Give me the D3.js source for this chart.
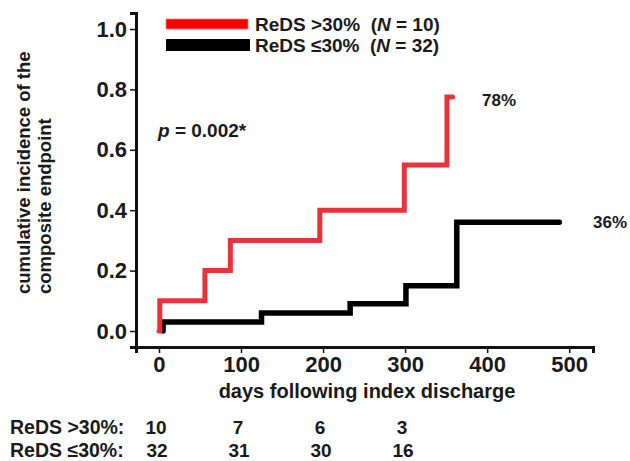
<!DOCTYPE html>
<html>
<head>
<meta charset="utf-8">
<script src="https://cdn.jsdelivr.net/npm/d3@7"></script>
<style>
  body { margin: 0; background: #fff; }
  text { font-family: "Liberation Sans", Arial, sans-serif; font-weight: bold; fill: #1a1a1a; white-space: pre; }
</style>
</head>
<body>
<svg id="chart" width="630" height="461"></svg>
<script>
// cumulative incidence, step curves (days, value)
const redDays = [0, 1, 56, 87, 196, 299, 351, 358];
const redVals = [0, 0.1, 0.2, 0.3, 0.4, 0.55, 0.775, 0.775];
const blackDays = [5, 5, 125, 233, 301, 363, 488];
const blackVals = [0, 0.03, 0.06, 0.09, 0.15, 0.36, 0.36];

const xTicks = [0, 100, 200, 300, 400, 500];
const yTicks = [0, 0.2, 0.4, 0.6, 0.8, 1.0];

const riskDays = [0, 100, 200, 300];
const riskRed = [10, 7, 6, 3];
const riskBlack = [32, 31, 30, 16];

const svg = d3.select("#chart");

const x = d3.scaleLinear().domain([-28, 529]).range([136, 593]);
const y = d3.scaleLinear().domain([-0.053, 1.053]).range([347, 13]);

// axes
const xAxis = svg.append("g").attr("transform", "translate(0,347)")
    .call(d3.axisBottom(x).tickValues(xTicks).tickSize(6).tickPadding(3).tickFormat(d3.format("d")));
const yAxis = svg.append("g").attr("transform", "translate(136,0)")
    .call(d3.axisLeft(y).tickValues(yTicks).tickSize(6).tickPadding(3).tickFormat(d3.format(".1f")));

[xAxis, yAxis].forEach(a => {
    a.select(".domain").attr("stroke", "#111").attr("stroke-width", 3);
    a.selectAll(".tick line").attr("stroke", "#111").attr("stroke-width", 1.5);
    a.selectAll(".tick text").attr("font-size", "22px").attr("font-family", null).attr("fill", "#1a1a1a");
});

// curves
const line = d3.line().x(d => x(d[0])).y(d => y(d[1])).curve(d3.curveStepAfter);

svg.append("path")
    .datum(blackDays.map((d, i) => [d, blackVals[i]]))
    .attr("d", line)
    .attr("fill", "none").attr("stroke", "#000").attr("stroke-width", 5.5)
    .attr("stroke-linecap", "round").attr("stroke-linejoin", "miter");

svg.append("path")
    .datum(redDays.map((d, i) => [d, redVals[i]]))
    .attr("d", line)
    .attr("fill", "none").attr("stroke", "#e8333c").attr("stroke-width", 5)
    .attr("stroke-linecap", "round").attr("stroke-linejoin", "miter");

// legend
svg.append("rect").attr("x", 166).attr("y", 19).attr("width", 82).attr("height", 10)
    .attr("fill", "#fe0000").attr("stroke", "#f77").attr("stroke-width", 0.8);
svg.append("rect").attr("x", 166).attr("y", 39).attr("width", 84).attr("height", 12)
    .attr("fill", "#000");

const leg1 = svg.append("text").attr("x", 255).attr("y", 31).attr("font-size", "19px");
leg1.append("tspan").text("ReDS >30%  (");
leg1.append("tspan").attr("font-style", "italic").text("N");
leg1.append("tspan").text(" = 10)");
const leg2 = svg.append("text").attr("x", 255).attr("y", 52).attr("font-size", "19px");
leg2.append("tspan").text("ReDS \u226430%  (");
leg2.append("tspan").attr("font-style", "italic").text("N");
leg2.append("tspan").text(" = 32)");

// p value
const pt = svg.append("text").attr("x", 158).attr("y", 137).attr("font-size", "19px");
pt.append("tspan").attr("font-style", "italic").text("p");
pt.append("tspan").text(" = 0.002*");

// end labels
svg.append("text").attr("x", 482).attr("y", 106).attr("font-size", "17px").text("78%");
svg.append("text").attr("x", 593).attr("y", 228).attr("font-size", "17px").text("36%");

// axis titles
svg.append("text").attr("x", 367).attr("y", 398).attr("text-anchor", "middle")
    .attr("font-size", "20px").text("days following index discharge");
svg.append("text").attr("transform", "translate(30,294) rotate(-90)")
    .attr("font-size", "18.5px").text("cumulative incidence of the");
svg.append("text").attr("transform", "translate(51,294) rotate(-90)")
    .attr("font-size", "18.5px").text("composite endpoint");

// numbers at risk
svg.append("text").attr("x", 10).attr("y", 434).attr("font-size", "19.5px").text("ReDS >30%:");
svg.append("text").attr("x", 10).attr("y", 457).attr("font-size", "19.5px").text("ReDS \u226430%:");
svg.selectAll(".riskRed").data(riskRed).join("text")
    .attr("x", (d, i) => x(riskDays[i]) - 3).attr("y", 434)
    .attr("text-anchor", "middle").attr("font-size", "19px").text(d => d);
svg.selectAll(".riskBlack").data(riskBlack).join("text")
    .attr("x", (d, i) => x(riskDays[i]) - 2).attr("y", 457)
    .attr("text-anchor", "middle").attr("font-size", "19px").text(d => d);
</script>
</body>
</html>
